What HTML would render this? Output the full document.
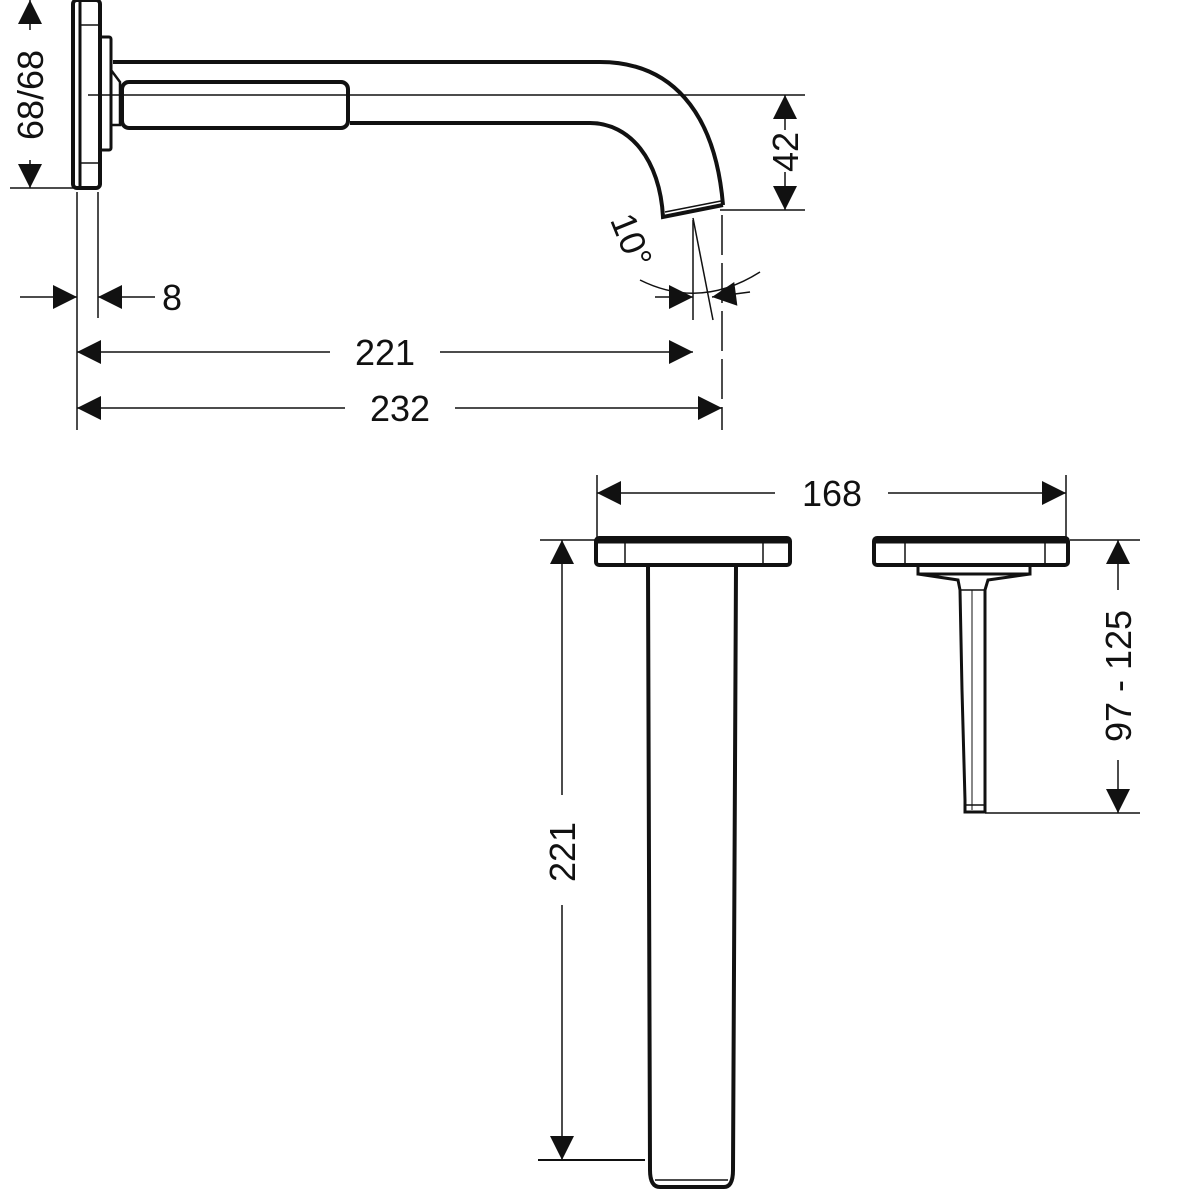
<!DOCTYPE html>
<html><head><style>html,body{margin:0;padding:0;background:#fff}svg{display:block}text{font-family:"Liberation Sans",sans-serif;font-size:36px;fill:#111}</style></head>
<body>
<svg width="1200" height="1200" viewBox="0 0 1200 1200" xmlns="http://www.w3.org/2000/svg">
<defs>
<marker id="a" viewBox="0 0 10 10" refX="10" refY="5" markerWidth="26" markerHeight="24" markerUnits="userSpaceOnUse" orient="auto-start-reverse"><path d="M0 0L10 5L0 10z" fill="#111"/></marker>
</defs>
<g stroke="#111" fill="none">
<rect x="73" y="0" width="27" height="188" rx="4" stroke-width="4"/>
<line x1="80" y1="2" x2="80" y2="186" stroke-width="3"/>
<line x1="80" y1="25" x2="98" y2="25" stroke-width="1.5"/>
<line x1="80" y1="163" x2="98" y2="163" stroke-width="1.5"/>
<rect x="100" y="37" width="11" height="113" rx="2" stroke-width="3"/>
<path d="M111 70 L120 82 L120 125 L111 125" stroke-width="2.5"/>
<path d="M113 62 L600 62 C670 62 715 110 723 205" stroke-width="4"/>
<path d="M350 123 L590 123 C630 123 660 160 663 217 L723 205" stroke-width="4"/>
<path d="M665 212 L721 201" stroke-width="1.5"/>
<rect x="122" y="82" width="226" height="46" rx="7" stroke-width="4"/>
<line x1="88" y1="95" x2="805" y2="95" stroke-width="1.5"/>
<line x1="720" y1="210" x2="805" y2="210" stroke-width="1.5"/>
<line x1="785" y1="130" x2="785" y2="95" stroke-width="1.5" marker-end="url(#a)"/>
<line x1="785" y1="172" x2="785" y2="210" stroke-width="1.5" marker-end="url(#a)"/>
<line x1="10" y1="188" x2="75" y2="188" stroke-width="1.5"/>
<line x1="30" y1="30" x2="30" y2="0" stroke-width="1.5" marker-end="url(#a)"/>
<line x1="30" y1="160" x2="30" y2="188" stroke-width="1.5" marker-end="url(#a)"/>
<line x1="77" y1="192" x2="77" y2="430" stroke-width="1.5"/>
<line x1="98" y1="192" x2="98" y2="318" stroke-width="1.5"/>
<line x1="693" y1="220" x2="693" y2="320" stroke-width="1.5"/>
<line x1="722" y1="215" x2="722" y2="430" stroke-width="1.5" stroke-dasharray="40 8"/>
<line x1="693" y1="218" x2="713" y2="320" stroke-width="1.5"/>
<path d="M640 280 Q700 310 760 272" stroke-width="1.5"/>
<line x1="655" y1="297" x2="693" y2="297" stroke-width="1.5" marker-end="url(#a)"/>
<line x1="750" y1="292" x2="712" y2="297" stroke-width="1.5" marker-end="url(#a)"/>
<line x1="20" y1="297" x2="77" y2="297" stroke-width="1.5" marker-end="url(#a)"/>
<line x1="155" y1="297" x2="98" y2="297" stroke-width="1.5" marker-end="url(#a)"/>
<line x1="330" y1="352" x2="77" y2="352" stroke-width="1.5" marker-end="url(#a)"/>
<line x1="440" y1="352" x2="693" y2="352" stroke-width="1.5" marker-end="url(#a)"/>
<line x1="345" y1="408" x2="77" y2="408" stroke-width="1.5" marker-end="url(#a)"/>
<line x1="455" y1="408" x2="722" y2="408" stroke-width="1.5" marker-end="url(#a)"/>
<line x1="597" y1="475" x2="597" y2="538" stroke-width="1.5"/>
<line x1="1066" y1="475" x2="1066" y2="538" stroke-width="1.5"/>
<line x1="775" y1="493" x2="597" y2="493" stroke-width="1.5" marker-end="url(#a)"/>
<line x1="888" y1="493" x2="1066" y2="493" stroke-width="1.5" marker-end="url(#a)"/>
<rect x="596" y="538" width="194" height="27" rx="3" stroke-width="4"/>
<line x1="598" y1="541" x2="788" y2="541" stroke-width="5"/>
<line x1="625" y1="543" x2="625" y2="563" stroke-width="1.5"/>
<line x1="763" y1="543" x2="763" y2="563" stroke-width="1.5"/>
<path d="M648 567 L650 1170 Q650 1187 660 1187 L724 1187 Q733 1187 733 1170 L736 567" stroke-width="4"/>
<line x1="655" y1="1180" x2="728" y2="1180" stroke-width="1.5"/>
<line x1="540" y1="540" x2="596" y2="540" stroke-width="1.5"/>
<line x1="538" y1="1160" x2="645" y2="1160" stroke-width="2"/>
<line x1="562" y1="795" x2="562" y2="540" stroke-width="1.5" marker-end="url(#a)"/>
<line x1="562" y1="905" x2="562" y2="1160" stroke-width="1.5" marker-end="url(#a)"/>
<rect x="874" y="538" width="194" height="27" rx="3" stroke-width="4"/>
<line x1="876" y1="541" x2="1066" y2="541" stroke-width="5"/>
<line x1="905" y1="543" x2="905" y2="563" stroke-width="1.5"/>
<line x1="1045" y1="543" x2="1045" y2="563" stroke-width="1.5"/>
<path d="M918 565 L918 574 L1030 574 L1030 565" stroke-width="3"/>
<path d="M918 574 L958 580 L960 590 L962 690 L965 800 L965 812 L985 812 L985 590 L988 580 L1030 574" stroke-width="3"/>
<line x1="960" y1="590" x2="985" y2="590" stroke-width="1.5"/>
<line x1="972" y1="590" x2="972" y2="810" stroke-width="1"/>
<line x1="966" y1="805" x2="984" y2="805" stroke-width="1.5"/>
<line x1="1070" y1="540" x2="1140" y2="540" stroke-width="1.5"/>
<line x1="985" y1="813" x2="1140" y2="813" stroke-width="1.5"/>
<line x1="1118" y1="590" x2="1118" y2="540" stroke-width="1.5" marker-end="url(#a)"/>
<line x1="1118" y1="760" x2="1118" y2="813" stroke-width="1.5" marker-end="url(#a)"/>
</g>
<text x="172" y="310" text-anchor="middle">8</text>
<text x="385" y="365" text-anchor="middle">221</text>
<text x="400" y="421" text-anchor="middle">232</text>
<text x="832" y="506" text-anchor="middle">168</text>
<text transform="translate(798,152) rotate(-90)" text-anchor="middle">42</text>
<text transform="translate(43,95) rotate(-90)" text-anchor="middle">68/68</text>
<text transform="translate(575,852) rotate(-90)" text-anchor="middle">221</text>
<text transform="translate(1131,676) rotate(-90)" text-anchor="middle">97 - 125</text>
<text transform="translate(620,245) rotate(68)" text-anchor="middle">10°</text>
</svg>
</body></html>
